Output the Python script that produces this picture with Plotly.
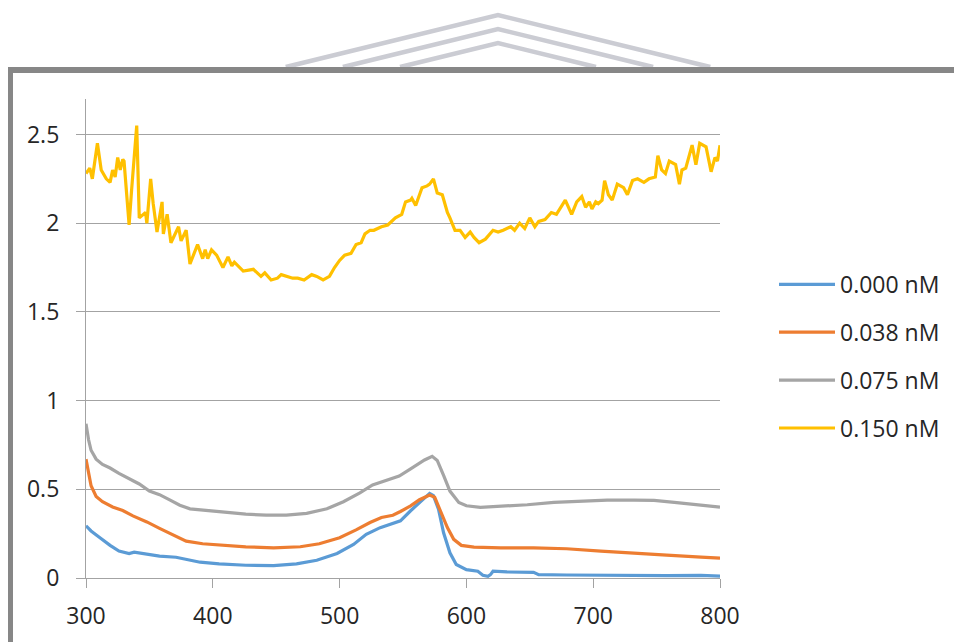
import plotly.graph_objects as go

# ---------------- data ----------------
wl_150 = [300, 303, 305, 309, 312, 316, 319, 321, 323, 325, 327, 329, 330, 334, 336, 340, 342, 344, 347, 348,
          351, 353, 356, 360, 361, 364, 367, 373, 375, 379, 382, 388, 392, 394, 396, 399, 403, 408, 412, 415,
          417, 424, 432, 438, 441, 446, 451, 454, 458, 463, 467, 472, 478, 482, 487, 492, 496, 500, 504, 509,
          513, 517, 520, 524, 527, 533, 538, 544, 549, 552, 556, 557, 560, 565, 569, 571, 574, 577, 581, 585,
          587, 591, 595, 599, 603, 606, 610, 615, 621, 625, 629, 635, 638, 642, 646, 650, 654, 657, 662, 667,
          671, 678, 683, 687, 691, 694, 697, 699, 702, 704, 707, 709, 712, 715, 719, 724, 727, 731, 735, 740,
          744, 749, 751, 754, 757, 760, 765, 768, 770, 773, 778, 781, 784, 789, 793, 796, 798, 800]
ab_150 = [2.28, 2.31, 2.25, 2.45, 2.30, 2.25, 2.23, 2.30, 2.26, 2.37, 2.30, 2.36, 2.35, 1.99, 2.19, 2.55, 2.03, 2.04, 2.06, 2.00,
          2.25, 2.11, 1.95, 2.12, 1.94, 2.05, 1.89, 1.98, 1.90, 1.96, 1.77, 1.88, 1.80, 1.85, 1.80, 1.85, 1.82, 1.75, 1.81, 1.76,
          1.78, 1.73, 1.74, 1.70, 1.72, 1.68, 1.69, 1.71, 1.70, 1.69, 1.69, 1.68, 1.71, 1.70, 1.68, 1.70, 1.75, 1.79, 1.82, 1.83,
          1.88, 1.89, 1.94, 1.96, 1.96, 1.98, 1.99, 2.03, 2.05, 2.12, 2.13, 2.14, 2.10, 2.20, 2.21, 2.22, 2.25, 2.17, 2.16, 2.06,
          2.03, 1.96, 1.96, 1.92, 1.95, 1.92, 1.89, 1.91, 1.96, 1.95, 1.96, 1.98, 1.96, 2.00, 1.97, 2.03, 1.98, 2.01, 2.02, 2.06,
          2.05, 2.13, 2.05, 2.12, 2.15, 2.09, 2.12, 2.08, 2.12, 2.11, 2.13, 2.24, 2.16, 2.13, 2.22, 2.20, 2.16, 2.24, 2.25, 2.23,
          2.25, 2.26, 2.38, 2.30, 2.28, 2.35, 2.33, 2.22, 2.30, 2.31, 2.44, 2.33, 2.45, 2.43, 2.29, 2.37, 2.35, 2.44]

wl_075 = [300, 302, 304, 308, 313, 319, 326, 334, 342, 350, 358, 366, 374, 382, 395, 408, 426, 442, 458, 474,
          490, 503, 516, 526, 537, 547, 556, 563, 567, 573, 577, 582, 587, 594, 600, 611, 627, 648, 669, 690,
          711, 732, 748, 764, 779, 800]
ab_075 = [0.87, 0.78, 0.72, 0.67, 0.64, 0.62, 0.59, 0.56, 0.53, 0.49, 0.47, 0.44, 0.41, 0.39, 0.38, 0.37, 0.36, 0.354, 0.354, 0.364,
          0.39, 0.43, 0.48, 0.525, 0.55, 0.575, 0.615, 0.65, 0.665, 0.686, 0.663, 0.578, 0.49, 0.426, 0.407, 0.398, 0.404, 0.413, 0.426, 0.434,
          0.439, 0.439, 0.437, 0.426, 0.416, 0.40]

wl_038 = [300, 302, 304, 308, 313, 321, 329, 337, 348, 358, 369, 379, 392, 408, 426, 448, 469, 484, 500, 513,
          524, 533, 542, 548, 556, 563, 571, 575, 579, 585, 590, 596, 606, 627, 653, 679, 706, 732, 758, 785,
          800]
ab_038 = [0.67, 0.60, 0.52, 0.46, 0.43, 0.40, 0.38, 0.35, 0.316, 0.28, 0.24, 0.208, 0.193, 0.184, 0.176, 0.170, 0.176, 0.193, 0.227, 0.271,
          0.313, 0.341, 0.354, 0.375, 0.407, 0.441, 0.468, 0.455, 0.388, 0.284, 0.218, 0.184, 0.174, 0.170, 0.170, 0.165, 0.151, 0.142, 0.129, 0.118,
          0.112]

wl_000 = [300, 304, 311, 319, 326, 334, 338, 348, 358, 371, 379, 390, 405, 426, 448, 466, 482, 498, 511, 521,
          532, 542, 548, 556, 563, 571, 574, 578, 582, 587, 592, 600, 609, 613, 617, 619, 621, 632, 653, 657,
          679, 706, 732, 758, 785, 800]
ab_000 = [0.294, 0.265, 0.227, 0.184, 0.152, 0.138, 0.146, 0.136, 0.123, 0.117, 0.104, 0.089, 0.080, 0.072, 0.070, 0.080, 0.100, 0.138, 0.189, 0.246,
          0.284, 0.306, 0.322, 0.379, 0.426, 0.477, 0.464, 0.388, 0.255, 0.142, 0.076, 0.047, 0.038, 0.015, 0.010, 0.019, 0.038, 0.034, 0.032, 0.019,
          0.017, 0.015, 0.013, 0.013, 0.015, 0.011]

series_names = ["0.000 nM", "0.038 nM", "0.075 nM", "0.150 nM"]
series_colors = ["#5B9BD5", "#ED7D31", "#A5A5A5", "#FFC000"]
x_ticks = [300, 400, 500, 600, 700, 800]
y_ticks = [0, 0.5, 1, 1.5, 2, 2.5]
y_tick_text = ["0", "0.5", "1", "1.5", "2", "2.5"]

# ---------------- figure ----------------
W, H = 962, 642
OFF = 8  # page body margin of the html page
ML, MR, MT, MB = 86 - OFF, 242 + OFF, 99 - OFF, 63.5 + OFF
PW, PH = W - ML - MR, H - MT - MB

def px_x(px):
    # page pixel -> paper coordinate
    return (px - OFF - ML) / PW

def px_y(py):
    return (H - MB - (py - OFF)) / PH

FONT = "'Open Sans', 'Noto Sans', sans-serif"
TXT = "#262626"
GRID = "#A3A3A3"

fig = go.Figure()
for i, (xs, ys) in enumerate([(wl_000, ab_000), (wl_038, ab_038), (wl_075, ab_075), (wl_150, ab_150)]):
    fig.add_trace(go.Scatter(
        x=xs, y=ys, mode="lines", name=series_names[i],
        line=dict(color=series_colors[i], width=3.2),
        legendgroup=f"g{i}",
    ))

shapes = []
# faint watermark chevrons above the frame
for apex_y in (15, 29, 43):
    half = (67 - apex_y) / 0.245
    shapes.append(dict(
        type="path", xref="paper", yref="paper",
        path=f"M {px_x(498 - half)} {px_y(67)} L {px_x(498)} {px_y(apex_y)} L {px_x(498 + half)} {px_y(67)}",
        line=dict(color="#CBCCD3", width=4.5), layer="below",
    ))
# dark grey frame (top and left edges)
shapes.append(dict(type="rect", xref="paper", yref="paper",
                   x0=px_x(7), x1=px_x(975), y0=px_y(73), y1=px_y(67),
                   fillcolor="#878787", line=dict(width=0), layer="below"))
shapes.append(dict(type="rect", xref="paper", yref="paper",
                   x0=px_x(7), x1=px_x(13), y0=px_y(660), y1=px_y(67),
                   fillcolor="#878787", line=dict(width=0), layer="below"))

fig.update_layout(
    width=W, height=H,
    margin=dict(l=ML, r=MR, t=MT, b=MB),
    paper_bgcolor="white", plot_bgcolor="white",
    font=dict(family=FONT, size=23, color=TXT),
    showlegend=True,
    legend=dict(
        x=px_x(774), y=px_y(263), xanchor="left", yanchor="top",
        font=dict(family=FONT, size=23, color=TXT),
        bgcolor="rgba(0,0,0,0)", tracegroupgap=15, itemwidth=56,
    ),
    shapes=shapes,
    xaxis=dict(
        range=[300, 800], tickvals=x_ticks, ticks="outside", ticklen=9,
        tickcolor=GRID, tickwidth=1.2, showline=True, linecolor=GRID, linewidth=1.2,
        showgrid=False, zeroline=False, ticklabelstandoff=8,
        tickfont=dict(family=FONT, size=23, color=TXT),
    ),
    yaxis=dict(
        range=[0, 2.7], tickvals=y_ticks, ticktext=y_tick_text, ticks="outside", ticklen=9,
        tickcolor=GRID, tickwidth=1.2, showline=True, linecolor=GRID, linewidth=1.2,
        showgrid=True, gridcolor=GRID, gridwidth=1.2, zeroline=False, ticklabelstandoff=12,
        tickfont=dict(family=FONT, size=23, color=TXT),
    ),
)

fig.write_html("out.html")
